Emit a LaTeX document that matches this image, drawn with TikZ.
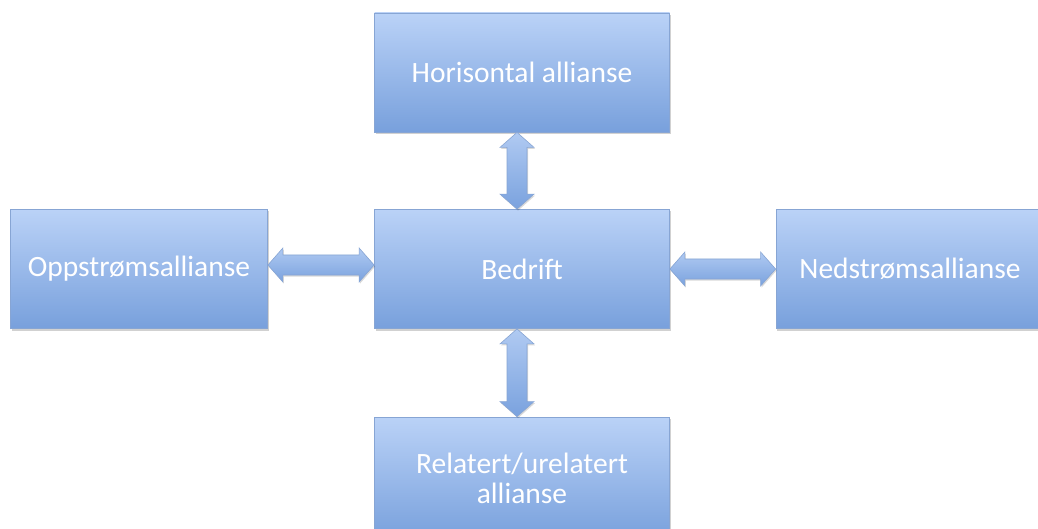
\documentclass[tikz,border=0pt]{standalone}
\usepackage{fontspec}
\setmainfont{Carlito}
\usetikzlibrary{calc,shadows}
\definecolor{boxtop}{RGB}{186,210,247}
\definecolor{boxbot}{RGB}{120,160,220}
\definecolor{boxline}{RGB}{135,165,212}
\definecolor{arrtop}{RGB}{176,202,242}
\definecolor{arrbot}{RGB}{122,162,222}
\tikzset{
  blockbox/.style={rectangle, draw=boxline, line width=0.8pt,
    top color=boxtop, bottom color=boxbot,
    drop shadow={shadow xshift=1pt, shadow yshift=-2pt, opacity=0.18, fill=black},
    text=white, font=\fontsize{29.5}{33}\selectfont, align=center,
    inner sep=0pt},
  blockarrow/.style={draw=boxline, line width=0.6pt, top color=arrtop, bottom color=arrbot,
    drop shadow={shadow xshift=1pt, shadow yshift=-1.5pt, opacity=0.15, fill=black}}
}
\newcommand\vdarrow[2]{%
  \path[blockarrow] let \p1=(#1), \p2=(#2) in
    (\x1,\y1) -- (\x1+17pt,\y1-15pt) -- (\x1+10pt,\y1-15pt) -- (\x1+10pt,\y2+15pt)
    -- (\x1+17pt,\y2+15pt) -- (\x1,\y2) -- (\x1-17pt,\y2+15pt) -- (\x1-10pt,\y2+15pt)
    -- (\x1-10pt,\y1-15pt) -- (\x1-17pt,\y1-15pt) -- cycle;}
\newcommand\hdarrow[2]{%
  \path[blockarrow] let \p1=(#1), \p2=(#2) in
    (\x1,\y1) -- (\x1+15pt,\y1+17pt) -- (\x1+15pt,\y1+10pt) -- (\x2-15pt,\y1+10pt)
    -- (\x2-15pt,\y1+17pt) -- (\x2,\y1) -- (\x2-15pt,\y1-17pt) -- (\x2-15pt,\y1-10pt)
    -- (\x1+15pt,\y1-10pt) -- (\x1+15pt,\y1-17pt) -- cycle;}
\begin{document}
\begin{tikzpicture}[x=1pt,y=-1pt]
\useasboundingbox (0,0) rectangle (1038,529);
\clip (0,0) rectangle (1038,529);
\fill[white] (0,0) rectangle (1038,529);
\node[blockbox, minimum width=295pt, minimum height=119pt] (top) at (522,72.5) {Horisontal allianse};
\node[blockbox, minimum width=295pt, minimum height=119pt] (mid) at (522,269) {Bedrift};
\node[blockbox, minimum width=257pt, minimum height=119pt] (left) at (139,269) {Oppstrømsallianse};
\node[blockbox, minimum width=268pt, minimum height=119pt] (right) at (910,269) {Nedstrømsallianse};
\node[blockbox, minimum width=295pt, minimum height=123pt] (bot) at (522,478.5) {Relatert/urelatert\\[-3pt]allianse};
\coordinate (lt) at ([yshift=4pt]left.east);
\coordinate (mt) at ([yshift=4pt]mid.west);
\coordinate (mr) at (mid.east);
\coordinate (rt) at (right.west);
\coordinate (tb) at ([xshift=-5pt]top.south);
\coordinate (mb) at ([xshift=-5pt]mid.north);
\coordinate (ms) at ([xshift=-5pt]mid.south);
\coordinate (bn) at ([xshift=-5pt]bot.north);
\vdarrow{tb}{mb}
\vdarrow{ms}{bn}
\hdarrow{lt}{mt}
\hdarrow{mr}{rt}
\end{tikzpicture}
\end{document}
